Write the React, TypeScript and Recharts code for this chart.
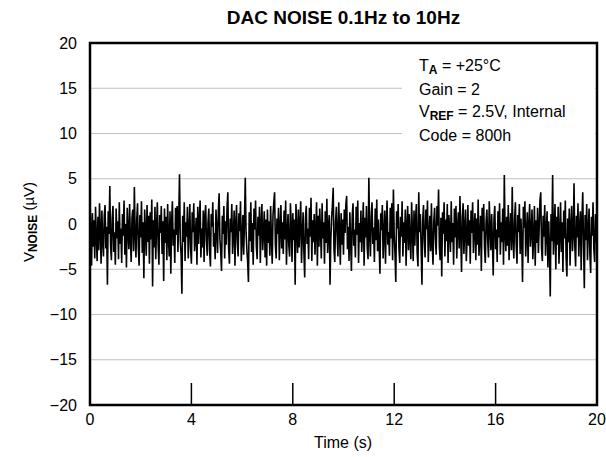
import React from "react";
import { LineChart, Line, XAxis, YAxis, CartesianGrid, ReferenceArea } from "recharts";

// noise trace, one sample every 1/32 s (0..20 s), one row per second
const TIME_STEP = 1 / 32;
const NOISE_UV = [
  2.9, -0.8, -4.6, 1.2, -2.5, 0.4, -3.8, 1.9, -1.4, -4.1, 0.8, -2.9, 2.3, -0.6, -4.4, 1.5, -1.9, -3.6, 0.9, 2.1, -2.7, -0.3, -6.7, 1.4, -1.1, 4.2, -2.4, -4.0, 0.6, 2.0, -3.1, -0.9,
  -4.5, 1.7, -1.6, 0.3, -3.9, 2.4, -2.2, -0.5, -4.3, 1.1, -1.3, 2.6, -3.4, 0.0, -4.8, 1.8, -0.7, -2.8, 2.2, -1.8, -4.2, 0.7, 1.6, -3.0, 4.1, -1.2, -3.7, 0.5, 2.3, -2.6, -4.6, 1.0,
  -1.5, 2.5, -3.2, 0.2, -6.0, 1.6, -0.8, -3.5, 2.1, -2.0, 0.9, -4.4, 1.3, -1.7, 2.7, -6.9, 0.4, -2.6, 1.9, -3.9, -0.4, 2.4, -2.3, -4.5, 1.0, -1.0, 2.0, -3.3, 0.3, -6.3, 1.7, -2.1,
  0.8, -4.0, 2.2, -1.5, -3.6, 1.4, -5.5, 0.1, 2.5, -2.4, -0.6, -4.3, 1.8, -1.2, 2.0, -3.1, 0.6, 5.5, -1.9, -3.4, -7.7, 0.9, -2.0, 2.4, -4.1, 0.2, -1.4, 1.9, -3.8, -0.7, 2.2, -2.8,
  -4.4, 1.3, -0.9, 2.3, -3.0, -1.6, 0.7, -4.5, 1.9, -2.2, 0.4, 2.6, -3.7, -0.5, -2.6, 1.5, -4.2, 0.8, 2.1, -1.8, -3.5, 0.2, 1.7, -2.9, -4.7, 1.1, -0.3, 2.4, -2.5, -1.0, -3.9, 1.6,
  -0.6, -3.2, 1.4, 3.4, -1.7, -3.0, -5.2, 0.9, -1.1, 2.0, -3.8, 0.3, -2.3, 1.8, 3.5, -2.7, -4.4, 0.6, -0.9, 2.2, -3.3, -1.2, 1.5, -4.6, 0.0, 2.1, -2.0, -3.6, 1.2, -0.8, 2.5, -4.1,
  -1.4, 1.0, -3.4, 0.4, 5.1, -0.9, -2.8, -4.2, -6.4, 1.3, -1.9, 2.4, -3.1, 0.1, -4.5, 1.7, -0.6, 2.6, -2.5, -3.9, 0.8, -1.3, 1.9, -4.3, -0.2, 2.2, -2.9, -1.0, 1.4, -3.7, 0.5, -4.6,
  1.6, -2.1, 0.3, -3.5, 2.0, -1.5, -4.4, 0.9, 2.4, 3.5, -2.3, -3.8, 0.6, -1.1, 1.8, -4.0, -0.4, 2.1, -2.7, 0.2, -3.3, 1.5, -1.7, 2.6, -4.5, -0.8, 1.1, -2.4, -3.6, 2.3, -0.1, -4.2,
  1.2, -1.8, 0.5, -6.7, 2.2, -0.7, -3.2, 1.6, -2.6, 0.0, 2.5, -4.3, -1.2, 1.3, -3.0, -5.9, 0.7, 2.0, -2.2, -0.5, -3.9, 1.8, -1.4, 2.9, -4.1, 0.4, -2.0, 1.1, -3.4, -0.6, 2.4, -4.6,
  0.9, -2.5, 1.7, -0.9, -3.8, 2.3, -1.6, 0.2, -4.4, 1.4, -2.1, 2.8, -3.2, -0.4, 1.0, -6.7, -1.7, 0.6, 2.1, 4.0, -2.9, -4.2, 0.3, 1.9, -1.3, -3.6, 2.4, -0.7, -4.5, 1.2, -2.3, 0.5,
  -3.4, 1.6, -1.0, 2.2, 3.1, -2.8, -0.3, -4.1, 1.3, -1.9, -5.2, 0.8, 2.3, -2.4, -0.6, -3.7, 1.9, -1.2, 2.6, -4.3, 0.1, -2.0, 1.5, -3.1, -0.8, 2.4, -4.6, 0.7, -1.5, 2.0, -2.7, -3.9,
  5.1, -1.3, -3.6, 0.9, 2.4, -2.2, -0.4, -4.2, 1.7, -1.8, 2.7, -3.0, 0.5, -2.5, -5.5, 1.2, -0.7, 2.1, -3.8, -1.1, 1.5, -4.4, 0.3, 2.6, -2.3, -0.9, -3.5, 1.8, -1.6, 2.3, -4.0, 3.8,
  -1.2, -3.3, -6.4, 1.4, -0.5, 2.2, -2.7, -4.3, 0.8, -1.4, 2.5, -3.6, 0.2, -2.1, 1.6, -4.6, -0.3, 2.0, -2.9, 1.1, -1.7, -3.9, 2.4, -0.8, -4.1, 1.5, -2.4, 0.6, 2.2, -3.2, -4.7, 3.5,
  -0.9, 1.1, -2.6, -6.7, 0.4, 2.1, -1.8, -3.7, 1.6, -0.6, 2.6, -4.2, -1.3, 0.9, -3.0, 2.3, -2.2, -4.5, 0.3, 1.8, -1.5, -3.4, 2.0, -0.2, 3.8, -2.5, -4.0, 0.7, -5.8, 1.3, -1.1, 2.4,
  -3.6, 0.5, -1.9, 2.2, -4.3, 1.0, -0.7, -3.1, 2.5, -2.0, 0.1, -4.5, 1.7, -1.5, 2.0, -3.8, -0.4, 1.3, -2.7, 3.1, -1.2, -5.3, 0.8, 2.3, -3.3, -0.6, 1.6, -4.1, -1.8, 2.1, -2.4, 0.4,
  -4.4, 1.5, -1.0, 2.4, -3.2, -0.3, 1.2, -4.0, 0.6, -2.3, 2.7, -3.5, -1.4, 0.9, -5.2, 1.8, -0.8, 2.2, -2.6, -4.3, 0.3, 1.6, -1.7, -3.7, 2.5, -0.5, -2.9, 1.1, -1.9, -5.7, 0.7, 2.0,
  -2.8, -0.6, -4.2, 1.4, -1.5, 2.3, -3.4, 0.2, -2.0, 1.7, -4.5, 5.4, -1.1, -3.0, 0.8, -2.4, 2.1, -4.0, -0.7, 1.2, -2.9, 4.1, -1.6, -3.8, 0.5, 2.4, -2.2, -4.4, 1.0, -0.9, 2.2, -3.3,
  0.6, -1.8, -6.4, 1.9, -0.4, 2.5, -3.6, -1.2, 1.3, -4.3, 0.0, 2.2, -2.5, -0.8, 1.6, -3.9, -1.5, 2.0, -4.6, 0.4, -2.1, 1.8, -3.2, -0.5, 2.6, 3.5, -2.7, -4.1, 0.9, -1.4, 2.1, -3.5,
  -0.7, 1.4, -4.8, 0.3, -2.6, -8.0, 1.1, -1.9, 5.4, -3.4, -0.6, 2.2, -5.0, 0.8, -2.3, 1.9, -4.4, -1.0, 2.4, -3.1, 0.2, -5.3, 1.5, -1.6, 2.6, -3.8, -5.8, 0.6, -2.0, 1.7, -4.6, -0.3,
  2.0, -3.0, -1.2, 4.5, -2.4, -4.7, 0.9, -1.5, 2.3, -3.6, -0.4, 1.4, -5.1, 0.5, 3.5, -2.2, -7.1, 1.0, -1.8, 2.2, -4.0, -0.6, 1.7, -3.3, -5.4, 0.8, -1.3, 2.4, -2.7, -4.2, 1.1, -2.0,
  -1.0,
];

const X_TICKS = [0, 4, 8, 12, 16, 20];
const Y_TICKS = [-20, -15, -10, -5, 0, 5, 10, 15, 20];

const FONT = "'Liberation Sans', Arial, Helvetica, sans-serif";

const data = NOISE_UV.map((v, i) => ({ t: i * TIME_STEP, v }));

const fmtY = (v: number) => (v < 0 ? `\u2212${Math.abs(v)}` : `${v}`);

// x tick: short mark pointing up into the plot, label underneath
const TimeTick = (props: any) => {
  const { x, y, payload } = props;
  return (
    <g>
      <line x1={x} y1={y} x2={x} y2={y - 22} stroke="#000" strokeWidth={1.5} />
      <text x={x} y={y + 20} textAnchor="middle" fontSize={16} fill="#000" fontFamily={FONT}>
        {payload.value}
      </text>
    </g>
  );
};

const sub = { fontSize: 12, fontWeight: 700, position: "relative" as const, top: 3 };

export default function App() {
  return (
    <div style={{ position: "absolute", left: 0, top: 0, width: 606, height: 457, fontFamily: FONT, color: "#000" }}>
      <LineChart width={606} height={457} data={data} margin={{ top: 43, right: 9, bottom: 22, left: 0 }}>
        <CartesianGrid vertical={false} stroke="#c0c0c0" strokeWidth={1} />
        <XAxis
          dataKey="t"
          type="number"
          domain={[0, 20]}
          ticks={X_TICKS}
          height={30}
          axisLine={false}
          tickLine={false}
          tickSize={0}
          tickMargin={0}
          tick={<TimeTick />}
          interval={0}
        />
        <YAxis
          type="number"
          domain={[-20, 20]}
          ticks={Y_TICKS}
          width={90}
          axisLine={false}
          tickLine={false}
          tickSize={0}
          tickMargin={13}
          tickFormatter={fmtY}
          tick={{ fontSize: 16, fill: "#000", fontFamily: FONT }}
          interval={0}
        />
        <Line
          type="linear"
          dataKey="v"
          stroke="#000"
          strokeWidth={1.6}
          dot={false}
          isAnimationActive={false}
        />
        <ReferenceArea x1={0} x2={20} y1={-20} y2={20} fill="none" stroke="#000" strokeWidth={2.5} />
      </LineChart>

      <div
        style={{
          position: "absolute", left: 90, top: 8, width: 507, textAlign: "center",
          fontSize: 19, fontWeight: 700, lineHeight: "20px",
        }}
      >
        DAC NOISE 0.1Hz to 10Hz
      </div>

      <div
        style={{
          position: "absolute", left: 402, top: 53, width: 193, height: 100, background: "#fff",
          paddingLeft: 17, boxSizing: "border-box", fontSize: 16, lineHeight: "22.5px", paddingTop: 2,
          whiteSpace: "nowrap",
        }}
      >
        <div>T<span style={sub}>A</span> = +25°C</div>
        <div>Gain = 2</div>
        <div>V<span style={sub}>REF</span> = 2.5V, Internal</div>
        <div>Code = 800h</div>
      </div>

      <div
        style={{
          position: "absolute", left: 28, top: 222, transform: "translate(-50%, -50%) rotate(-90deg)",
          whiteSpace: "nowrap", fontSize: 15,
        }}
      >
        V<span style={sub}>NOISE</span> (µV)
      </div>

      <div
        style={{
          position: "absolute", left: 343, top: 443, transform: "translate(-50%, -50%)",
          whiteSpace: "nowrap", fontSize: 16,
        }}
      >
        Time (s)
      </div>
    </div>
  );
}
